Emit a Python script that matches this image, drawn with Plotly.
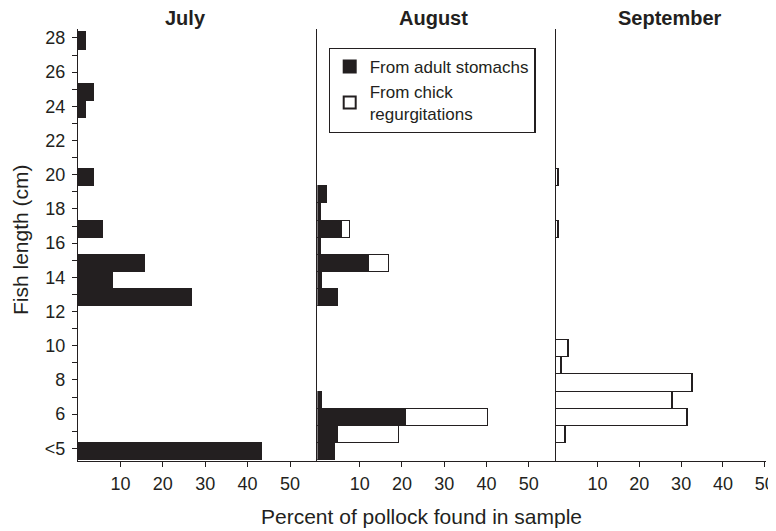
import plotly.graph_objects as go

# Length bins (cm); 4 stands for the "<5" class
length_bins = [4, 5, 6, 7, 8, 9, 10, 11, 12, 13, 14, 15, 16, 17, 18, 19, 20, 21, 22, 23, 24, 25, 26, 27, 28]

# Percent of pollock found in sample (None = no fish in that class)
july_adult = [43.5, None, None, None, None, None, None, None, None, 27.0, 8.3, 15.8, None, 5.9, None, None, 3.8, None, None, None, 2.0, 3.8, None, None, 1.8]
aug_adult = [4.3, 4.9, 21.1, 1.1, None, None, None, None, None, 5.0, 1.1, 12.2, 1.0, 5.8, 1.0, 2.3, None, None, None, None, None, None, None, None, None]
aug_chick = [None, 14.4, 19.4, None, None, None, None, None, None, None, None, 4.9, None, 2.0, None, None, None, None, None, None, None, None, None, None, None]
sep_chick = [None, 2.4, 31.5, 27.9, 32.7, 1.5, 3.2, None, None, None, None, None, None, 0.8, None, None, 0.8, None, None, None, None, None, None, None, None]

# Tick labels on the length axis
major_ticks = [4, 6, 8, 10, 12, 14, 16, 18, 20, 22, 24, 26, 28]
major_text = ["<5", "6", "8", "10", "12", "14", "16", "18", "20", "22", "24", "26", "28"]
minor_ticks = [5, 7, 9, 11, 13, 15, 17, 19, 21, 23, 25, 27]
x_ticks = [10, 20, 30, 40, 50]
months = ["July", "August", "September"]

INK = "#231f20"
FONT = "Arial"
TICK_SHIFT = 0.18

# page offset of the figure (browser body margin)
OFF = 8
PL, PT, PW, PH = 78, 29, 688, 432  # plot area in page pixels
FIG_W = 776 - OFF
FIG_H = 531 - OFF

fig = go.Figure()

black = dict(color=INK, line=dict(color=INK, width=1))
white = dict(color="white", line=dict(color=INK, width=1.4))

fig.add_trace(go.Bar(y=length_bins, x=july_adult, orientation="h", marker=black,
                     name="From adult stomachs", showlegend=False, xaxis="x", yaxis="y", width=1))
fig.add_trace(go.Bar(y=length_bins, x=aug_adult, orientation="h", marker=black,
                     name="From adult stomachs", showlegend=True, xaxis="x2", yaxis="y2", width=1))
fig.add_trace(go.Bar(y=length_bins, x=aug_chick, orientation="h", marker=white,
                     name="From chick<br>regurgitations", showlegend=True, xaxis="x2", yaxis="y2", width=1))
fig.add_trace(go.Bar(y=length_bins, x=sep_chick, orientation="h", marker=white,
                     name="From chick<br>regurgitations", showlegend=False, xaxis="x3", yaxis="y3", width=1))

tick_font = dict(family=FONT, size=18, color=INK)
yr = [3.44, 28.7]
ticks_all = sorted(major_ticks + minor_ticks)
text_map = dict(zip(major_ticks, major_text))
yvals = [t + TICK_SHIFT for t in ticks_all]
ytext = [text_map.get(t, "") for t in ticks_all]

xcommon = dict(showline=True, linecolor=INK, linewidth=1.3, ticks="outside", ticklen=5,
               tickwidth=1.3, tickcolor=INK, tickvals=x_ticks, tickfont=tick_font,
               showgrid=False, zeroline=False, fixedrange=True, ticklabelstandoff=1,
               automargin=False)
ycommon = dict(showline=True, linecolor=INK, linewidth=1.3, showgrid=False, zeroline=False,
               range=yr, fixedrange=True, automargin=False)

d1 = 239.4 / PW
d2 = 477.7 / PW


def px_x(px):
    return (px - PL) / PW


def px_y(py):
    return (PT + PH - py) / PH


fig.update_layout(
    xaxis=dict(domain=[0, d1], range=[0, 56.46], anchor="y", **xcommon),
    xaxis2=dict(domain=[d1, d2], range=[0, 56.4], anchor="y2", **xcommon),
    xaxis3=dict(domain=[d2, 1], range=[0, 50.3], anchor="y3", **xcommon),
    yaxis=dict(anchor="x", tickvals=yvals, ticktext=ytext, ticks="outside", ticklen=5,
               tickwidth=1.3, tickcolor=INK, tickfont=tick_font, ticklabelstandoff=3, **ycommon),
    yaxis2=dict(anchor="x2", showticklabels=False, ticks="", **ycommon),
    yaxis3=dict(anchor="x3", showticklabels=False, ticks="", **ycommon),
    barmode="stack",
    bargap=0,
    width=FIG_W, height=FIG_H,
    margin=dict(l=PL - OFF, r=FIG_W - (PL - OFF) - PW, t=PT - OFF, b=FIG_H - (PT - OFF) - PH),
    paper_bgcolor="white", plot_bgcolor="white",
    font=dict(family=FONT, color=INK),
    legend=dict(x=px_x(328.5), y=px_y(47.7), xanchor="left", yanchor="top",
                bgcolor="white", bordercolor=INK, borderwidth=1.2,
                font=dict(family=FONT, size=17, color=INK), traceorder="normal",
                tracegroupgap=2, itemsizing="constant"),
)

title_x = [185, 433, 670]
for m, px in zip(months, title_x):
    fig.add_annotation(text="<b>%s</b>" % m, x=px_x(px), y=px_y(18),
                       xref="paper", yref="paper", showarrow=False,
                       font=dict(family=FONT, size=20, color=INK), xanchor="center", yanchor="middle")

fig.add_annotation(text="Fish length (cm)", x=px_x(20), y=px_y(240),
                   xref="paper", yref="paper", showarrow=False, textangle=-90,
                   font=dict(family=FONT, size=21, color=INK), xanchor="center", yanchor="middle")
fig.add_annotation(text="Percent of pollock found in sample", x=px_x(421), y=px_y(516),
                   xref="paper", yref="paper", showarrow=False,
                   font=dict(family=FONT, size=21, color=INK), xanchor="center", yanchor="middle")

fig.write_html("out.html")
